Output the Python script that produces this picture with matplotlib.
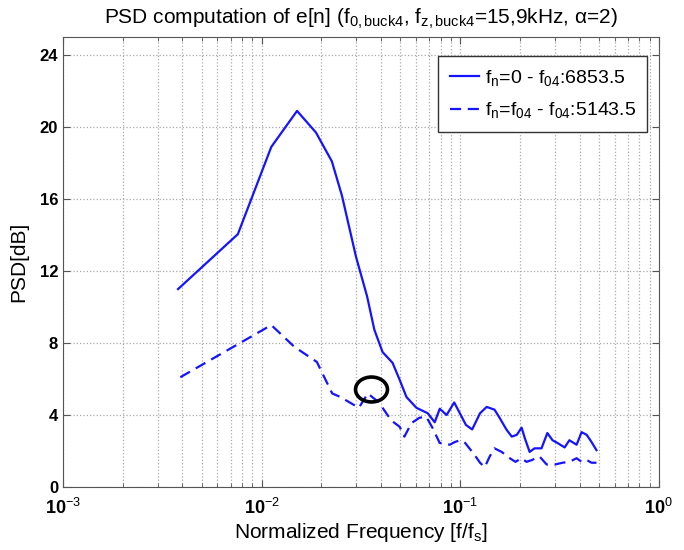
import matplotlib
matplotlib.use('Agg')
import matplotlib.pyplot as plt
from matplotlib.path import Path
from matplotlib.transforms import Affine2D
from matplotlib.ticker import LogLocator, NullFormatter, FuncFormatter
import numpy as np

plt.rcParams['font.family'] = ['Liberation Sans', 'DejaVu Sans']
plt.rcParams['mathtext.fontset'] = 'custom'
plt.rcParams['mathtext.rm'] = 'Liberation Sans'
plt.rcParams['mathtext.it'] = 'Liberation Sans'
plt.rcParams['mathtext.bf'] = 'Liberation Sans:bold'

# PSD for f_n = 0 .. f_04 (solid)
freq_full = [0.0038, 0.0076, 0.0112, 0.0151, 0.0188, 0.0226, 0.0254, 0.0299,
             0.0340, 0.0370, 0.0407, 0.0457, 0.0496, 0.0537, 0.0603, 0.0687,
             0.0745, 0.0790, 0.0855, 0.0934, 0.107, 0.115, 0.126, 0.136,
             0.149, 0.158, 0.171, 0.182, 0.193, 0.204, 0.212, 0.224, 0.237,
             0.257, 0.275, 0.292, 0.309, 0.336, 0.355, 0.386, 0.409, 0.434,
             0.459, 0.486]
psd_full = [11.0, 14.05, 18.9, 20.9, 19.7, 18.1, 16.2, 12.8,
            10.6, 8.74, 7.5, 6.9, 5.96, 5.0, 4.4, 4.1,
            3.6, 4.35, 4.0, 4.7, 3.45, 3.2, 4.1, 4.45,
            4.3, 3.85, 3.2, 2.8, 2.9, 3.3, 2.7, 1.95, 2.15,
            2.15, 3.0, 2.6, 2.45, 2.2, 2.6, 2.35, 3.05, 2.9,
            2.5, 2.05]

# PSD for f_n = f_04 .. f_04 (dashed)
freq_part = [0.0039, 0.0112, 0.0146, 0.0190, 0.0227, 0.0250, 0.0309, 0.0343,
             0.0390, 0.0450, 0.0496, 0.0524, 0.0569, 0.0624, 0.0676, 0.0725,
             0.0789, 0.0887, 0.0940, 0.100, 0.106, 0.118, 0.126, 0.133,
             0.141, 0.149, 0.162, 0.178, 0.190, 0.204, 0.216, 0.230, 0.251,
             0.273, 0.300, 0.328, 0.355, 0.386, 0.409, 0.434, 0.459, 0.486]
psd_part = [6.1, 9.0, 7.8, 6.95, 5.2, 5.0, 4.4, 5.2,
            4.7, 3.7, 3.35, 2.8, 3.55, 3.85, 3.9, 3.3,
            2.45, 2.35, 2.5, 2.6, 2.45, 1.8, 1.35, 1.1,
            1.7, 2.15, 1.95, 1.6, 1.4, 1.6, 1.4, 1.5, 1.7,
            1.25, 1.25, 1.35, 1.4, 1.6, 1.4, 1.5, 1.35, 1.35]

legend_labels = [r'$\mathregular{f_n}$=0 - $\mathregular{f_{04}}$:6853.5',
                 r'$\mathregular{f_n}$=$\mathregular{f_{04}}$ - $\mathregular{f_{04}}$:5143.5']
y_ticks = [0, 4, 8, 12, 16, 20, 24]

# highlighted point (black ring)
circle_x = 0.0355
circle_y = 5.43

fig = plt.figure(figsize=(6.84, 5.5), dpi=100)
ax = fig.add_axes([0.092, 0.1145, 0.871, 0.818])

ax.semilogx(freq_full, psd_full, '-', color='#1414ff', lw=1.6, label=legend_labels[0])
ax.semilogx(freq_part, psd_part, '--', color='#1414ff', lw=1.6, dashes=(5, 3),
            label=legend_labels[1])

ring = Path.unit_circle().transformed(Affine2D().scale(1.0, 0.78))
ax.plot([circle_x], [circle_y], linestyle='none', marker=ring, ms=23,
        mfc='none', mec='black', mew=2.6)

ax.set_xlim(1e-3, 1)
ax.set_ylim(0, 25)
ax.set_yticks(y_ticks)
ax.xaxis.set_major_formatter(FuncFormatter(
    lambda v, pos: r'$\mathbf{10}^{\mathregular{%d}}$' % int(round(np.log10(v)))))
ax.xaxis.set_minor_locator(LogLocator(base=10, subs=range(2, 10), numticks=20))
ax.xaxis.set_minor_formatter(NullFormatter())

ax.grid(True, which='major', linestyle=':', color='#aaaaaa', lw=0.9)
ax.grid(True, which='minor', axis='x', linestyle=':', color='#aaaaaa', lw=0.9)
ax.tick_params(which='both', direction='in', top=True, right=True, color='#555555')
ax.tick_params(which='major', length=5, labelsize=12)
ax.tick_params(axis='x', which='major', pad=8, labelsize=13)
ax.tick_params(which='minor', length=3)
for lbl in ax.get_yticklabels():
    lbl.set_fontweight('bold')
for spine in ax.spines.values():
    spine.set_color('#555555')

ax.set_title(r'PSD computation of e[n] ($\mathregular{f_{0,buck4}}$, '
             r'$\mathregular{f_{z,buck4}}$=15,9kHz, $\alpha$=2)',
             fontsize=15, pad=10)
ax.set_xlabel(r'Normalized Frequency [f/$\mathregular{f_s}$]', fontsize=15, labelpad=2)
ax.set_ylabel('PSD[dB]', fontsize=15, labelpad=8)

leg = ax.legend(loc='upper right', bbox_to_anchor=(0.981, 0.958), fontsize=14,
                fancybox=False, framealpha=1, edgecolor='#333333',
                handlelength=1.5, handletextpad=0.3, borderpad=0.6,
                labelspacing=0.65, borderaxespad=0)
leg.get_frame().set_linewidth(1.0)

fig.savefig('out.png', dpi=100)
